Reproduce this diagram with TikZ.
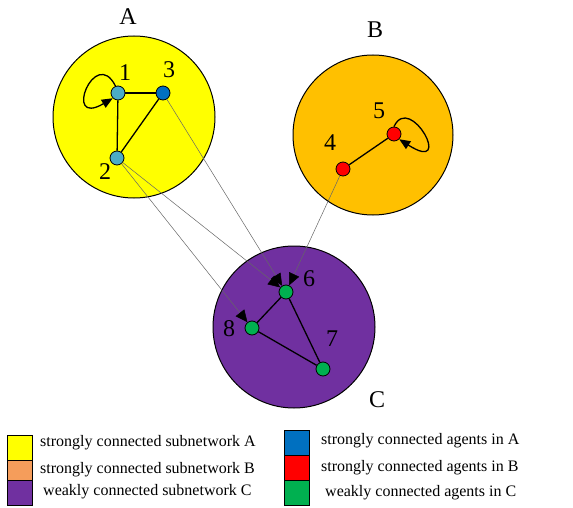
\documentclass[tikz,border=0pt]{standalone}
\usepackage{fontspec}
\setmainfont{Liberation Serif}
\usetikzlibrary{arrows.meta}
\definecolor{subA}{HTML}{FFFF00}
\definecolor{subB}{HTML}{FFC000}
\definecolor{subBkey}{HTML}{F59D5B}
\definecolor{subC}{HTML}{7030A0}
\definecolor{agentA}{HTML}{0070C0}
\definecolor{agentAlight}{HTML}{4BACC6}
\definecolor{agentB}{HTML}{FF0000}
\definecolor{agentC}{HTML}{00B050}
\tikzset{
  subnet/.style={circle,draw=black,line width=1pt,inner sep=0pt},
  agent/.style={circle,draw=black,line width=0.8pt,minimum size=14pt,inner sep=0pt},
  tag/.style={font=\fontsize{24}{26}\selectfont,inner sep=0pt},
  link/.style={line width=1.3pt,black},
  crosslink/.style={line width=0.5pt,gray!80!black,-{Triangle[length=12pt,width=11pt,color=black]}},
  selfloop/.style={line width=1.3pt,black,-{Triangle[length=11pt,width=9pt]}},
  keybox/.style={draw=black,line width=1pt,minimum width=25pt,inner sep=0pt},
  keytext/.style={font=\fontsize{16}{18}\selectfont,anchor=west,inner sep=0pt},
}
\begin{document}
\begin{tikzpicture}[x=1pt,y=-1pt]
\useasboundingbox (0,0) rectangle (573,508);

% subnetworks
\node[subnet,fill=subA,minimum size=162pt] (A) at (134,117) {};
\node[subnet,fill=subB,minimum size=160pt] (B) at (373,135) {};
\node[subnet,fill=subC,minimum size=162pt] (C) at (294,327) {};
\node[tag] (tA) at (128,17) {A};
\node[tag] (tB) at (375,30) {B};
\node[tag] (tC) at (377,400) {C};

% agents
\node[agent,fill=agentAlight] (n1) at (118,93) {};
\node[agent,fill=agentAlight] (n2) at (117,158) {};
\node[agent,fill=agentA] (n3) at (163,93) {};
\node[agent,fill=agentB] (n4) at (343,169) {};
\node[agent,fill=agentB] (n5) at (394,134) {};
\node[agent,fill=agentC] (n6) at (286,292) {};
\node[agent,fill=agentC] (n7) at (323,369) {};
\node[agent,fill=agentC] (n8) at (252,328) {};

\node[tag] (l1) at (125,73) {1};
\node[tag] (l2) at (105,172) {2};
\node[tag] (l3) at (169,70) {3};
\node[tag] (l4) at (330,143) {4};
\node[tag] (l5) at (379,111) {5};
\node[tag] (l6) at (309,279) {6};
\node[tag] (l7) at (332,339) {7};
\node[tag] (l8) at (229,329) {8};

% links inside subnetworks
\draw[link] (n1) -- (n3);
\draw[link] (n1) -- (n2);
\draw[link] (n2) -- (n3);
\draw[link] (n4) -- (n5);
\draw[link] (n6) -- (n8);
\draw[link] (n6) -- (n7);
\draw[link] (n8) -- (n7);

% self loops
\draw[selfloop] (n1.110) .. controls (95,45) and (62,128) .. (n1.south west);
\draw[selfloop] (n5.north) .. controls (410,92) and (455,175) .. (n5.south east);

% links between subnetworks
\draw[crosslink] (n3) -- (n6);
\draw[crosslink] (n2) -- (n6);
\draw[crosslink] (n2) -- (n8);
\draw[crosslink] (n4) -- (n6);

% key
\node[keybox,fill=subA,minimum height=25pt,anchor=north west] (kA) at (7,435) {};
\node[keybox,fill=subBkey,minimum height=20pt,anchor=north west] (kB) at (7,460) {};
\node[keybox,fill=subC,minimum height=25pt,anchor=north west] (kC) at (7,480) {};
\node[keybox,fill=agentA,minimum height=25pt,anchor=north west] (kD) at (284,430) {};
\node[keybox,fill=agentB,minimum height=25pt,anchor=north west] (kE) at (284,455) {};
\node[keybox,fill=agentC,minimum height=25pt,anchor=north west] (kF) at (284,480) {};

\node[keytext] (tkA) at (40,443) {strongly connected subnetwork A};
\node[keytext] (tkB) at (40,470) {strongly connected subnetwork B};
\node[keytext] (tkC) at (43,492) {weakly connected subnetwork C};
\node[keytext] (tkD) at (321,441) {strongly connected agents in A};
\node[keytext] (tkE) at (321,468) {strongly connected agents in B};
\node[keytext] (tkF) at (325,493) {weakly connected agents in C};
\end{tikzpicture}
\end{document}
